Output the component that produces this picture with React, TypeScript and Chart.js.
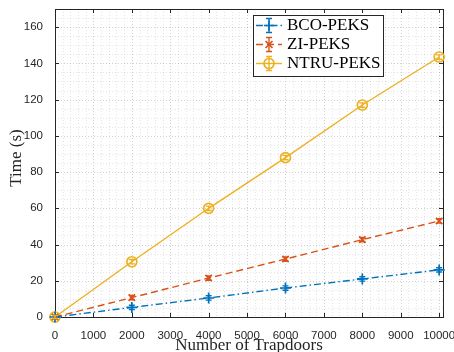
import React, { useEffect, useRef } from "react";
import { Chart, registerables } from "chart.js";
Chart.register(...registerables);

const trapdoors = [0, 2000, 4000, 6000, 8000, 10000];
const bcoPeks = [0, 5.3, 10.5, 16, 21, 26];
const ziPeks = [0, 10.7, 21.5, 32, 42.7, 53];
const ntruPeks = [0, 30.5, 60, 88, 117, 143.5];
const bcoErr = [0.8, 1.2, 1.2, 1.2, 1.2, 1.2];
const ziErr = [0.8, 1.2, 1.2, 1.2, 1.2, 1.2];
const ntruErr = [0.8, 1.2, 1.2, 1.2, 1.2, 1.2];
const seriesNames = ["BCO-PEKS", "ZI-PEKS", "NTRU-PEKS"];
const xTicks = [0, 1000, 2000, 3000, 4000, 5000, 6000, 7000, 8000, 9000, 10000];
const yTicks = [0, 20, 40, 60, 80, 100, 120, 140, 160];
const xTitle = "Number of Trapdoors";
const yTitle = "Time (s)";

const BLUE = "#0072BD";
const ORANGE = "#D95319";
const YELLOW = "#EDB120";
const AXIS = "#262626";

const colors = [BLUE, ORANGE, YELLOW];
const dashes = [[7, 3, 1.5, 3], [7, 4], []];
const styles = ["cross", "crossRot", "circle"];
const errs = [bcoErr, ziErr, ntruErr];

const frame = {
  id: "frame",
  beforeDatasetsDraw(chart: any) {
    const { ctx, chartArea: a, scales } = chart;
    const xs = scales.x, ys = scales.y;
    ctx.save();
    ctx.lineWidth = 1;
    ctx.setLineDash([1, 2]);
    ctx.strokeStyle = "rgba(0,0,0,0.10)";
    for (let v = 200; v < 10100; v += 200) {
      if (v % 1000 === 0) continue;
      const px = Math.round(xs.getPixelForValue(v)) + 0.5;
      ctx.beginPath(); ctx.moveTo(px, a.top); ctx.lineTo(px, a.bottom); ctx.stroke();
    }
    for (let v = 5; v < 170; v += 5) {
      if (v % 20 === 0) continue;
      const py = Math.round(ys.getPixelForValue(v)) + 0.5;
      ctx.beginPath(); ctx.moveTo(a.left, py); ctx.lineTo(a.right, py); ctx.stroke();
    }
    ctx.strokeStyle = "rgba(0,0,0,0.18)";
    xTicks.forEach((v) => {
      const px = Math.round(xs.getPixelForValue(v)) + 0.5;
      ctx.beginPath(); ctx.moveTo(px, a.top); ctx.lineTo(px, a.bottom); ctx.stroke();
    });
    yTicks.forEach((v) => {
      const py = Math.round(ys.getPixelForValue(v)) + 0.5;
      ctx.beginPath(); ctx.moveTo(a.left, py); ctx.lineTo(a.right, py); ctx.stroke();
    });
    ctx.setLineDash([]);
    ctx.strokeStyle = AXIS;
    ctx.lineWidth = 1;
    ctx.strokeRect(Math.round(a.left) + 0.5, Math.round(a.top) + 0.5, Math.round(a.right - a.left), Math.round(a.bottom - a.top));
    const tl = 4;
    xTicks.forEach((v) => {
      const px = Math.round(xs.getPixelForValue(v)) + 0.5;
      ctx.beginPath(); ctx.moveTo(px, a.bottom); ctx.lineTo(px, a.bottom - tl); ctx.stroke();
      ctx.beginPath(); ctx.moveTo(px, a.top); ctx.lineTo(px, a.top + tl); ctx.stroke();
    });
    yTicks.forEach((v) => {
      const py = Math.round(ys.getPixelForValue(v)) + 0.5;
      ctx.beginPath(); ctx.moveTo(a.left, py); ctx.lineTo(a.left + tl, py); ctx.stroke();
      ctx.beginPath(); ctx.moveTo(a.right, py); ctx.lineTo(a.right - tl, py); ctx.stroke();
    });
    ctx.restore();
  },
  afterDatasetsDraw(chart: any) {
    const { ctx, scales } = chart;
    const xs = scales.x, ys = scales.y;
    ctx.save();
    chart.data.datasets.forEach((ds: any, i: number) => {
      ctx.strokeStyle = colors[i];
      ctx.lineWidth = 1.4;
      ds.data.forEach((p: any, j: number) => {
        const px = xs.getPixelForValue(p.x);
        const y1 = ys.getPixelForValue(p.y - errs[i][j]);
        const y2 = ys.getPixelForValue(p.y + errs[i][j]);
        ctx.beginPath();
        ctx.moveTo(px, y1); ctx.lineTo(px, y2);
        ctx.moveTo(px - 3, y1); ctx.lineTo(px + 3, y1);
        ctx.moveTo(px - 3, y2); ctx.lineTo(px + 3, y2);
        ctx.stroke();
      });
    });
    ctx.restore();
  },
  afterDraw(chart: any) {
    const { ctx } = chart;
    ctx.save();
    ctx.fillStyle = AXIS;
    ctx.font = "17px 'Liberation Serif'";
    ctx.textAlign = "center";
    ctx.textBaseline = "middle";
    ctx.fillText(xTitle, 249, 345.5);
    ctx.save();
    ctx.translate(17, 158);
    ctx.rotate(-Math.PI / 2);
    ctx.fillText(yTitle, 0, 0);
    ctx.restore();
    const bx = 253, by = 15, bw = 130, bh = 61;
    ctx.fillStyle = "#ffffff";
    ctx.fillRect(bx, by, bw, bh);
    ctx.strokeStyle = AXIS;
    ctx.lineWidth = 1;
    ctx.strokeRect(bx + 0.5, by + 0.5, bw, bh);
    const rows = [25.5, 44.5, 63.5];
    seriesNames.forEach((name, i) => {
      const y = rows[i];
      ctx.strokeStyle = colors[i];
      ctx.lineWidth = 1.4;
      ctx.setLineDash(dashes[i]);
      ctx.beginPath(); ctx.moveTo(256, y); ctx.lineTo(282, y); ctx.stroke();
      ctx.setLineDash([]);
      const mx = 269;
      ctx.beginPath();
      ctx.moveTo(mx, y - 7); ctx.lineTo(mx, y + 7);
      ctx.moveTo(mx - 3, y - 7); ctx.lineTo(mx + 3, y - 7);
      ctx.moveTo(mx - 3, y + 7); ctx.lineTo(mx + 3, y + 7);
      ctx.stroke();
      ctx.lineWidth = 1.7;
      ctx.beginPath();
      if (i === 0) {
        ctx.moveTo(mx - 5, y); ctx.lineTo(mx + 5, y);
        ctx.moveTo(mx, y - 5); ctx.lineTo(mx, y + 5);
      } else if (i === 1) {
        ctx.moveTo(mx - 3.5, y - 3.5); ctx.lineTo(mx + 3.5, y + 3.5);
        ctx.moveTo(mx - 3.5, y + 3.5); ctx.lineTo(mx + 3.5, y - 3.5);
      } else {
        ctx.arc(mx, y, 5, 0, Math.PI * 2);
      }
      ctx.stroke();
      ctx.fillStyle = "#000000";
      ctx.font = "17px 'Liberation Serif'";
      ctx.textAlign = "left";
      ctx.textBaseline = "middle";
      ctx.fillText(name, 287, y + 0.5);
    });
    ctx.restore();
  },
};

export default function App() {
  const ref = useRef<HTMLCanvasElement | null>(null);
  useEffect(() => {
    if (!ref.current) return;
    const series = [bcoPeks, ziPeks, ntruPeks];
    const chart = new Chart(ref.current, {
      type: "line",
      data: {
        datasets: series.map((vals, i) => ({
          label: seriesNames[i],
          data: trapdoors.map((x, j) => ({ x, y: vals[j] })),
          borderColor: colors[i],
          backgroundColor: "rgba(0,0,0,0)",
          borderWidth: 1.4,
          borderDash: dashes[i],
          pointStyle: styles[i] as any,
          pointRadius: i === 2 ? 5 : i === 1 ? 4.5 : 5.5,
          pointBorderWidth: 1.7,
          pointBorderColor: colors[i],
          pointBackgroundColor: "rgba(0,0,0,0)",
          fill: false,
          tension: 0,
          clip: false as any,
        })),
      },
      options: {
        animation: false,
        responsive: false,
        devicePixelRatio: 1,
        layout: { padding: { top: 9, right: 11, left: 0, bottom: 0 } },
        plugins: { legend: { display: false }, tooltip: { enabled: false } },
        scales: {
          x: {
            type: "linear",
            min: 0,
            max: 10100,
            grid: { display: false },
            border: { display: false },
            ticks: {
              font: { family: "'Liberation Sans'", size: 11.5 },
              color: AXIS,
              padding: 4,
              maxRotation: 0,
              autoSkip: false,
              callback: (v: any) => String(v),
            },
            afterBuildTicks: (s: any) => { s.ticks = xTicks.map((value) => ({ value })); },
            afterFit: (s: any) => { s.height = 35; s.paddingLeft = 0; s.paddingRight = 0; },
          },
          y: {
            type: "linear",
            min: 0,
            max: 170,
            grid: { display: false },
            border: { display: false },
            ticks: {
              font: { family: "'Liberation Sans'", size: 11.5 },
              color: AXIS,
              padding: 4,
              autoSkip: false,
              callback: (v: any) => String(v),
            },
            afterBuildTicks: (s: any) => { s.ticks = yTicks.map((value) => ({ value })); },
            afterFit: (s: any) => { s.width = 55; s.paddingTop = 0; s.paddingBottom = 0; },
          },
        },
      },
      plugins: [frame],
    });
    return () => chart.destroy();
  }, []);
  return (
    <div style={{ position: "fixed", left: 0, top: 0, width: 454, height: 352, background: "#fff" }}>
      <canvas ref={ref} width={454} height={352} />
    </div>
  );
}
